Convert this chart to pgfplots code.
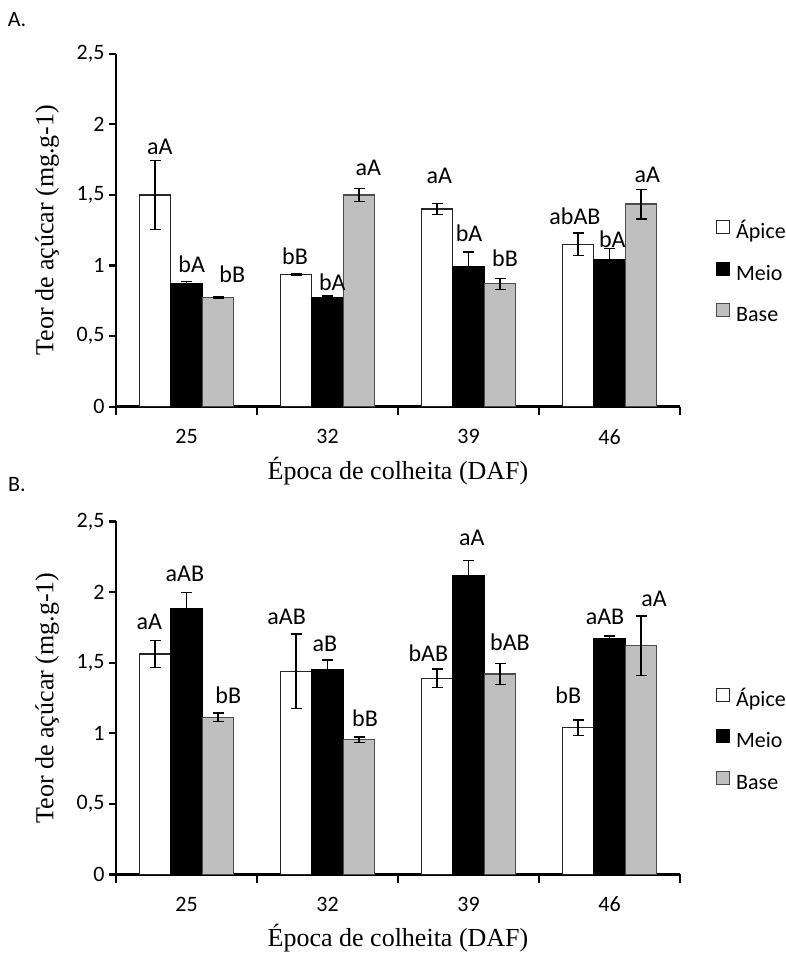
\documentclass[border=0pt]{standalone}
\usepackage{fontspec}
\setmainfont{Carlito}
\newfontfamily\timesfont{Liberation Serif}
\usepackage{pgfplots}
\usepackage{pgfplotstable}
\pgfplotsset{compat=1.18}

\definecolor{barg}{RGB}{191,191,191}

% Panel A (x = group index + offset of the bar within the group)
\pgfplotstableread{
x y e
-0.2234 1.500 0.245
0.7766 0.935 0.005
1.7766 1.400 0.040
2.7766 1.150 0.080
}\Aw
\pgfplotstableread{
x y e
0 0.870 0.015
1 0.775 0.008
2 0.995 0.100
3 1.040 0.080
}\Ab
\pgfplotstableread{
x y e
0.2234 0.775 0.005
1.2234 1.500 0.045
2.2234 0.870 0.040
3.2234 1.435 0.105
}\Ag
% Panel B
\pgfplotstableread{
x y e
-0.2234 1.562 0.094
0.7766 1.439 0.265
1.7766 1.390 0.065
2.7766 1.040 0.055
}\Bw
\pgfplotstableread{
x y e
0 1.880 0.117
1 1.449 0.070
2 2.115 0.110
3 1.670 0.020
}\Bb
\pgfplotstableread{
x y e
0.2234 1.114 0.030
1.2234 0.955 0.018
2.2234 1.421 0.073
3.2234 1.621 0.210
}\Bg

\tikzset{lbl/.style={font=\fontsize{24}{28}\selectfont, inner sep=0pt, anchor=center}}

\pgfplotsset{
  panel/.style={
    scale only axis, width=564pt, height=353pt,
    xmin=-0.5, xmax=3.5, ymin=0, ymax=2.5,
    clip=false,
    axis x line=bottom, axis y line=left,
    axis line style={-, line width=2.5pt, black},
    xtick={0,1,2,3}, xticklabels={25,32,39,46},
    minor xtick={-0.5,0.5,1.5,2.5,3.5},
    ytick={0,0.5,1,1.5,2,2.5}, yticklabels={0,{0,5},1,{1,5},2,{2,5}},
    tick align=outside,
    major tick length=7pt, minor tick length=8pt,
    every tick/.append style={black, line width=2.2pt},
    every major x tick/.append style={draw=none},
    ticklabel style={font=\fontsize{22}{26}\selectfont},
    xticklabel style={yshift=-12pt},
    yticklabel style={xshift=-1pt},
    xlabel={\timesfont Época de colheita (DAF)},
    ylabel={\timesfont Teor de açúcar (mg.g-1)},
    label style={font=\fontsize{26}{30}\selectfont},
    xlabel style={at={(axis description cs:0.5,-0.1813)}, anchor=center},
    ylabel style={at={(axis description cs:-0.1223,0.5)}, anchor=center},
    legend style={at={(axis description cs:1.0638,0.378)}, anchor=west,
      draw=none, fill=none, font=\fontsize{22}{26}\selectfont,
      row sep=18pt, column sep=6pt, inner sep=0pt,
      nodes={inner sep=0pt, text height=15pt, text depth=5pt}},
    legend cell align=left,
    legend image code/.code={\draw[#1, line width=1pt] (0pt,0pt) rectangle (13pt,13pt);},
  },
  bars/.style={ybar, bar width=0.2234, bar shift=0, line width=1.3pt,
    error bars/.cd, y dir=both, y explicit,
    error bar style={line width=1.3pt, black},
    error mark options={rotate=90, line width=1.3pt, mark size=5.5pt, black}},
  wbar/.style={fill=white, draw=black!85, bars},
  bbar/.style={fill=black, draw=black, bars},
  gbar/.style={fill=barg, draw=black!70, bars},
}

\begin{document}
\begin{tikzpicture}
\useasboundingbox (0pt,0pt) rectangle (786pt,953pt);

\node[font=\fontsize{22}{26}\selectfont] at (17pt,933pt) {A.};
\node[font=\fontsize{22}{26}\selectfont] at (17pt,468pt) {B.};

\begin{axis}[panel, at={(116pt,546.3pt)}, anchor=south west]
\addplot[wbar] table[x=x,y=y,y error=e] {\Aw};
\addplot[bbar] table[x=x,y=y,y error=e] {\Ab};
\addplot[gbar] table[x=x,y=y,y error=e] {\Ag};
\legend{Ápice,Meio,Base}
\node[lbl] at (axis cs:-0.190,1.837) {aA};
\node[lbl] at (axis cs:0.037,1.007) {bA};
\node[lbl] at (axis cs:0.325,0.936) {bB};
\node[lbl] at (axis cs:0.770,1.062) {bB};
\node[lbl] at (axis cs:1.034,0.884) {bA};
\node[lbl] at (axis cs:1.289,1.693) {aA};
\node[lbl] at (axis cs:1.793,1.638) {aA};
\node[lbl] at (axis cs:2.004,1.227) {bA};
\node[lbl] at (axis cs:2.259,1.054) {bB};
\node[lbl] at (axis cs:2.755,1.350) {abAB};
\node[lbl] at (axis cs:3.020,1.184) {bA};
\node[lbl] at (axis cs:3.268,1.645) {aA};
\end{axis}

\begin{axis}[panel, at={(116pt,78.5pt)}, anchor=south west]
\addplot[wbar] table[x=x,y=y,y error=e] {\Bw};
\addplot[bbar] table[x=x,y=y,y error=e] {\Bb};
\addplot[gbar] table[x=x,y=y,y error=e] {\Bg};
\legend{Ápice,Meio,Base}
\node[lbl] at (axis cs:-0.264,1.792) {aA};
\node[lbl] at (axis cs:-0.011,2.127) {aAB};
\node[lbl] at (axis cs:0.296,1.268) {bB};
\node[lbl] at (axis cs:0.710,1.826) {aAB};
\node[lbl] at (axis cs:0.982,1.633) {aB};
\node[lbl] at (axis cs:1.266,1.110) {bB};
\node[lbl] at (axis cs:1.715,1.566) {bAB};
\node[lbl] at (axis cs:2.023,2.386) {aA};
\node[lbl] at (axis cs:2.294,1.644) {bAB};
\node[lbl] at (axis cs:2.708,1.268) {bB};
\node[lbl] at (axis cs:2.968,1.826) {aAB};
\node[lbl] at (axis cs:3.316,1.951) {aA};
\end{axis}
\end{tikzpicture}
\end{document}
